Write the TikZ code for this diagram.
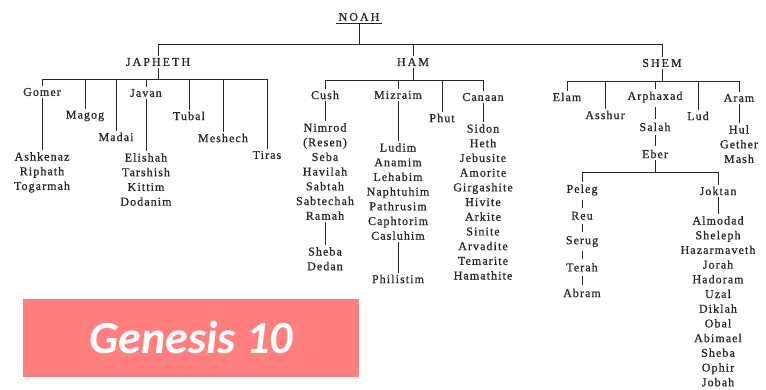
\documentclass[tikz,border=0pt]{standalone}
\usepackage{fontspec}
\setmainfont{Liberation Serif}
\newfontfamily\namefont[LetterSpace=9,FakeBold=0.8]{Liberation Serif}
\newfontfamily\chieffont[LetterSpace=17,FakeBold=0.8]{Liberation Serif}
\newfontfamily\bannerfont{Carlito}
\usepackage{tikz}
\usetikzlibrary{positioning}
\definecolor{ink}{HTML}{262626}
\definecolor{salmon}{HTML}{FF7F7F}

\begin{document}
\begin{tikzpicture}[x=1pt,y=-1pt,node distance=25.75pt,
    son/.style={inner sep=2pt,text=ink,font=\namefont\fontsize{12}{14.7}\selectfont},
    sons/.style={son,align=center,anchor=north},
    chief/.style={inner sep=2pt,text=ink,font=\chieffont\fontsize{12}{14.7}\selectfont},
    link/.style={draw=ink,line width=0.9pt},
    tick/.style={link,shorten >=2pt,shorten <=2pt}]
                \useasboundingbox (0,0) rectangle (766,389);

                % Noah and his three sons
                \node[chief]  (noah)    at (359,17)  {NOAH};
                \node[chief]  (japheth) at (158,62)  {JAPHETH};
                \node[chief]  (ham)     at (413,62)  {HAM};
                \node[chief]  (shem)    at (662,63)  {SHEM};
                \coordinate   (top)     at (359,44);

                % Japheth
                \node[son]  (gomer)   at (42,92)   {Gomer};
                \node[son]  (magog)   at (85,116)  {Magog};
                \node[son]  (madai)   at (116,137) {Madai};
                \node[son]  (javan)   at (146,93)  {Javan};
                \node[son]  (tubal)   at (189,116) {Tubal};
                \node[son]  (meshech) at (223,138) {Meshech};
                \node[son]  (tiras)   at (267,155) {Tiras};
                \node[sons] (gomerkids) at (42,150)  {Ashkenaz\\Riphath\\Togarmah};
                \node[sons] (javankids) at (146,151) {Elishah\\Tarshish\\Kittim\\Dodanim};
                \coordinate (jbar) at (158,79);

                % Ham
                \node[son]  (cush)    at (325,95)  {Cush};
                \node[son]  (mizraim) at (398,95)  {Mizraim};
                \node[son]  (phut)    at (442,118) {Phut};
                \node[son]  (canaan)  at (483,97)  {Canaan};
                \node[sons] (cushkids)   at (325,121) {Nimrod\\(Resen)\\Seba\\Havilah\\Sabtah\\Sabtechah\\Ramah};
                \node[sons] (ramahkids)  at (325,245) {Sheba\\Dedan};
                \node[sons] (mizkids)    at (398,141) {Ludim\\Anamim\\Lehabim\\Naphtuhim\\Pathrusim\\Caphtorim\\Casluhim};
                \node[son]  (philistim)  at (398,279) {Philistim};
                \node[sons] (canaankids) at (483,122) {Sidon\\Heth\\Jebusite\\Amorite\\Girgashite\\Hivite\\Arkite\\Sinite\\Arvadite\\Temarite\\Hamathite};
                \coordinate (hbar) at (413,80);

                % Shem
                \node[son]  (elam)     at (567,97)  {Elam};
                \node[son]  (asshur)   at (605,115) {Asshur};
                \node[son]  (arphaxad) at (655,97)  {Arphaxad};
                \node[son]  (lud)      at (698,116) {Lud};
                \node[son]  (aram)     at (739,98)  {Aram};
                \node[sons] (aramkids) at (739,123) {Hul\\Gether\\Mash};
                \node[son]  (salah)    at (655,127) {Salah};
                \node[son]  (eber)     at (655,154) {Eber};
                \node[son]  (peleg)    at (582,190) {Peleg};
                \node[son]  (reu)      [below of=peleg] {Reu};
                \node[son]  (serug)    [below of=reu]   {Serug};
                \node[son]  (terah)    [below of=serug] {Terah};
                \node[son]  (abram)    [below of=terah] {Abram};
                \node[son]  (joktan)   at (718,191) {Joktan};
                \node[sons] (joktankids) at (718,214) {Almodad\\Sheleph\\Hazarmaveth\\Jorah\\Hadoram\\Uzal\\Diklah\\Obal\\Abimael\\Sheba\\Ophir\\Jobah};
                \coordinate (sbar) at (662,81);
                \coordinate (ebar) at (655,172);

                % bars
                \draw[link] (noah.south west) -- (noah.south east);
                \draw[link] (noah.south) -- (top);
                \draw[link] (top -| japheth) -- (top -| shem);
                \draw[link] (jbar -| gomer) -- (jbar -| tiras);
                \draw[link] (hbar -| cush) -- (hbar -| canaan);
                \draw[link] (sbar -| elam) -- (sbar -| aram);
                \draw[link] (ebar -| peleg) -- (ebar -| joktan);
                \draw[link] (japheth) -- (jbar);
                \draw[link] (ham) -- (hbar);
                \draw[link] (shem) -- (sbar);
                \draw[link] (eber) -- (ebar);
                \foreach \s in {japheth,ham,shem}
                    \draw[link] (top -| \s) -- (\s);
                \foreach \s in {gomer,magog,madai,javan,tubal,meshech,tiras}
                    \draw[link] (jbar -| \s) -- (\s);
                \foreach \s in {cush,mizraim,phut,canaan}
                    \draw[link] (hbar -| \s) -- (\s);
                \foreach \s in {elam,asshur,arphaxad,lud,aram}
                    \draw[link] (sbar -| \s) -- (\s);
                \foreach \s in {peleg,joktan}
                    \draw[link] (ebar -| \s) -- (\s);

                % descendants
                \path[link] (gomer)     edge (gomerkids)
                            (javan)     edge (javankids)
                            (cush)      edge (cushkids)
                            (cushkids)  edge (ramahkids)
                            (mizraim)   edge (mizkids)
                            (mizkids)   edge (philistim)
                            (canaan)    edge (canaankids)
                            (aram)      edge (aramkids)
                            (joktan)    edge (joktankids);
                \path[tick] (arphaxad)  edge (salah)
                            (salah)     edge (eber)
                            (peleg)     edge (reu)
                            (reu)       edge (serug)
                            (serug)     edge (terah)
                            (terah)     edge (abram);

                \node[fill=salmon,minimum width=336pt,minimum height=78pt,inner sep=0pt,
                      text=white,font=\bannerfont\bfseries\itshape\fontsize{46}{50}\selectfont]
                      (title) at (191,338) {Genesis 10};
            \end{tikzpicture}
\end{document}
